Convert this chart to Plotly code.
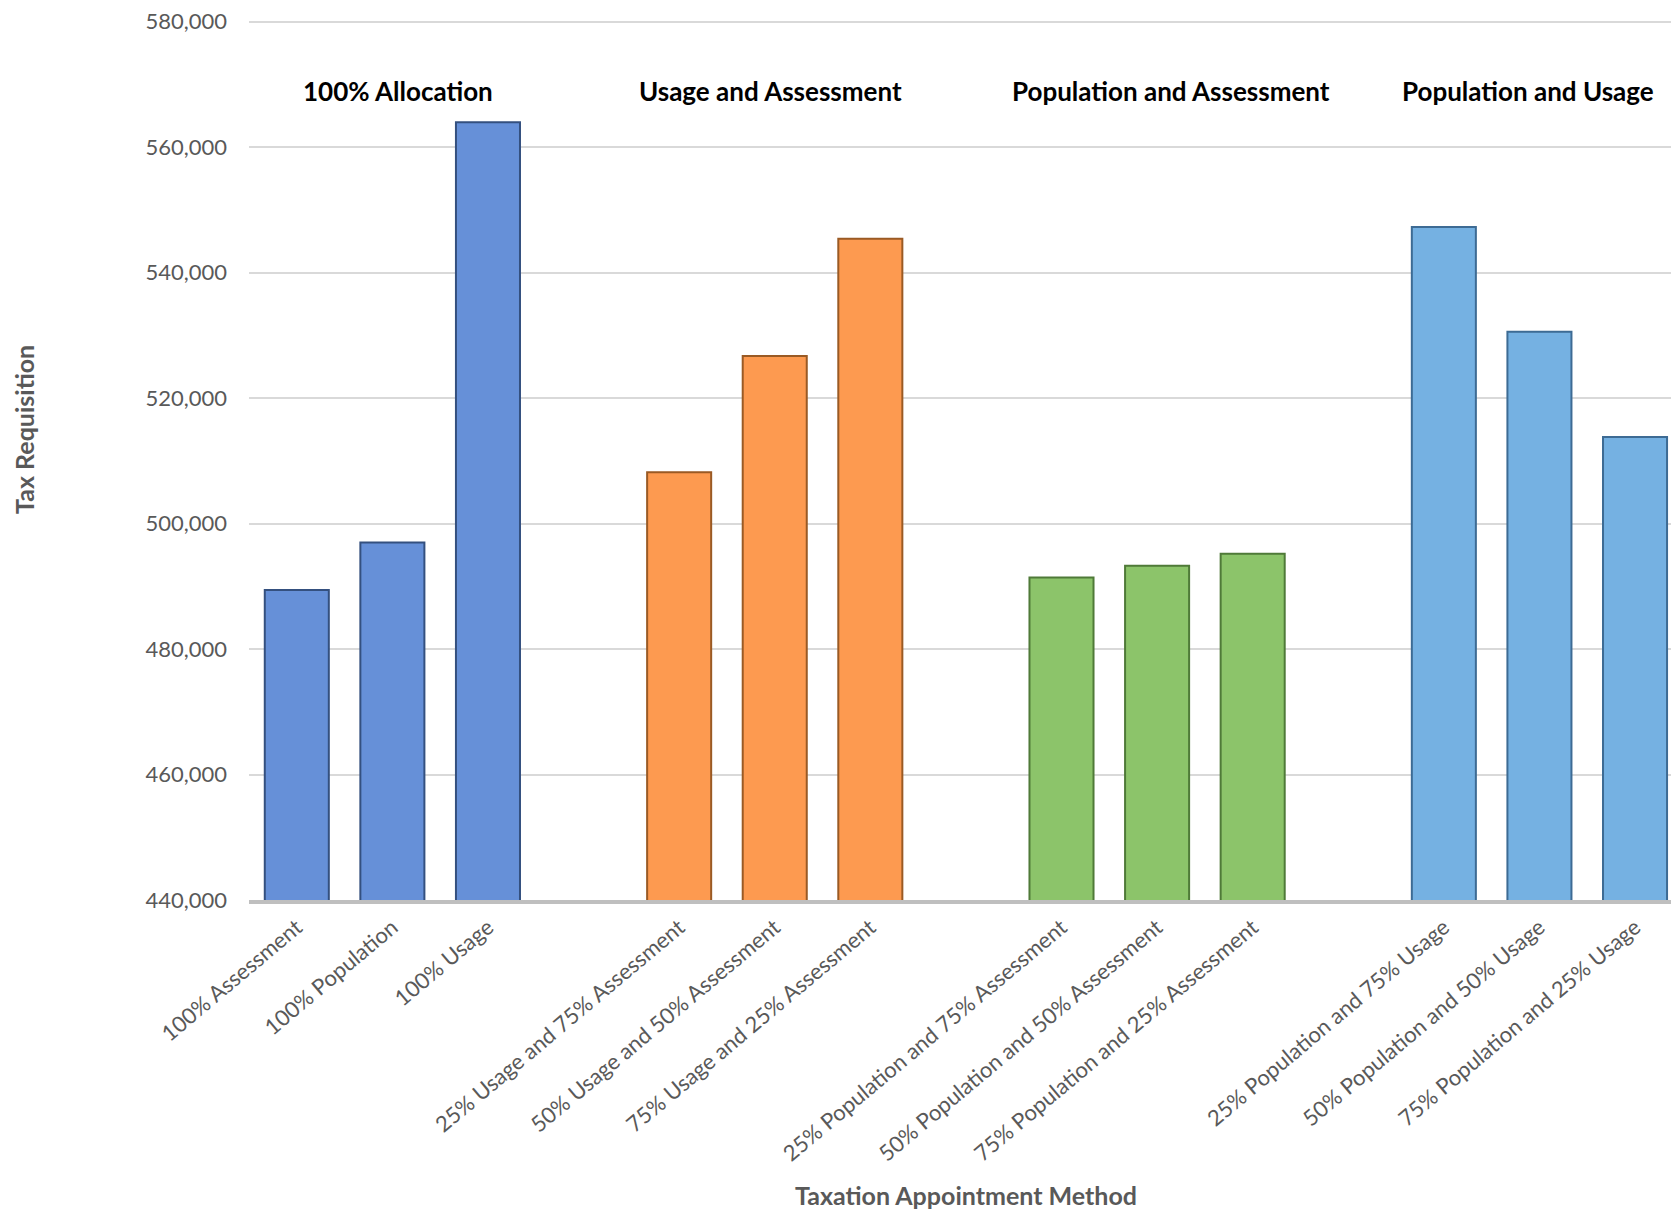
import plotly.graph_objects as go

# ---- data ----
groups = ["100% Allocation", "Usage and Assessment", "Population and Assessment", "Population and Usage"]
categories = [
    ["100% Assessment", "100% Population", "100% Usage"],
    ["25% Usage and 75% Assessment", "50% Usage and 50% Assessment", "75% Usage and 25% Assessment"],
    ["25% Population and 75% Assessment", "50% Population and 50% Assessment", "75% Population and 25% Assessment"],
    ["25% Population and 75% Usage", "50% Population and 50% Usage", "75% Population and 25% Usage"],
]
values = [
    [489400, 497000, 564000],
    [508200, 526700, 545400],
    [491400, 493300, 495200],
    [547300, 530600, 513800],
]
fill_colors = ["#6690D8", "#FD9A50", "#8CC46A", "#75B1E2"]
edge_colors = ["#34507F", "#9A5A24", "#4F7A38", "#3D6B94"]
group_label_shift = [6, -4, 14, -11]  # px offsets of the group headings

y_ticks = [440000, 460000, 480000, 500000, 520000, 540000, 560000, 580000]
x_title = "Taxation Appointment Method"
y_title = "Tax Requisition"

FONT = "Lato, 'Open Sans', sans-serif"
GREY = "#595959"

fig = go.Figure()
tickvals, ticktext = [], []
slot = 0
for gi, (gname, cats, vals) in enumerate(zip(groups, categories, values)):
    xs = []
    for c in cats:
        xs.append(slot)
        tickvals.append(slot)
        ticktext.append(c)
        slot += 1
    slot += 1  # blank slot between groups
    fig.add_trace(go.Bar(
        x=xs, y=vals, name=gname, showlegend=False,
        marker=dict(color=fill_colors[gi], line=dict(color=edge_colors[gi], width=2)),
        width=0.67,
    ))
    fig.add_annotation(
        x=xs[1], y=569000, xref="x", yref="y", text="<b>%s</b>" % gname,
        xshift=group_label_shift[gi],
        showarrow=False, font=dict(family=FONT, size=26, color="#000000"),
    )

# axis titles
fig.add_annotation(
    x=-0.1573, y=0.533, xref="paper", yref="paper", text="<b>%s</b>" % y_title,
    textangle=-90, showarrow=False, xanchor="center", yanchor="middle",
    font=dict(family=FONT, size=25, color=GREY),
)
fig.add_annotation(
    x=0.5015, y=-0.335, xref="paper", yref="paper", text="<b>%s</b>" % x_title,
    showarrow=False, xanchor="center", yanchor="middle",
    font=dict(family=FONT, size=25, color=GREY),
)

fig.update_layout(
    width=1671, height=1204,
    margin=dict(l=241, r=0, t=10, b=312),
    paper_bgcolor="white", plot_bgcolor="white",
    font=dict(family=FONT, color=GREY),
    bargap=0.33,
)
fig.update_xaxes(
    range=[-0.5, 14.46], automargin=False,
    tickmode="array", tickvals=tickvals, ticktext=ticktext,
    tickangle=-40, tickfont=dict(family=FONT, size=22, color=GREY),
    showgrid=False, zeroline=False,
    showline=True, linecolor="#BFBFBF", linewidth=4,
    ticks="", ticklabelstandoff=2,
)
fig.update_yaxes(
    range=[440000, 580600], automargin=False,
    tickmode="array", tickvals=y_ticks, tickformat=",",
    tickfont=dict(family=FONT, size=22, color=GREY),
    ticklabeloverflow="allow",
    showgrid=True, gridcolor="#D9D9D9", gridwidth=2,
    zeroline=False, showline=False, ticks="", ticklabelstandoff=21,
)

fig.write_html("out.html")
